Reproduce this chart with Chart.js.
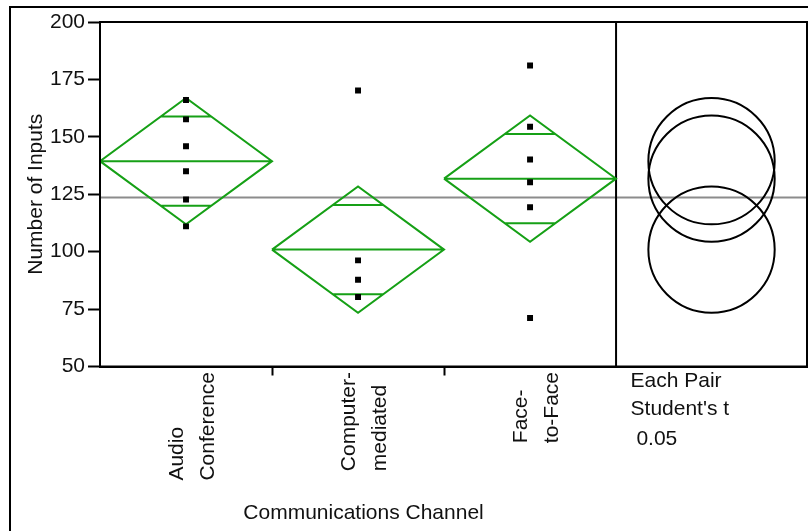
<!DOCTYPE html>
<html>
<head>
<meta charset="utf-8">
<title>Number of Inputs by Communications Channel</title>
<script src="https://cdn.jsdelivr.net/npm/chart.js@4/dist/chart.umd.min.js"></script>
<style>
  html, body { margin: 0; padding: 0; background: #ffffff; }
  #wrap { width: 808px; height: 531px; position: relative; }
</style>
</head>
<body>
<div id="wrap"><canvas id="chart" width="808" height="531"></canvas></div>
<script>
// ---- data ----
const channels = ['Audio Conference', 'Computer-mediated', 'Face-to-Face'];
const channelLabelLines = [['Audio', 'Conference'], ['Computer-', 'mediated'], ['Face-', 'to-Face']];
const audioInputs = [166, 157.6, 145.9, 135, 122.7, 111];
const computerInputs = [170.2, 96.2, 87.8, 80.3];
const faceInputs = [181.1, 154.4, 140.1, 130.2, 119.3, 71.1];
const groupMeans = [139.4, 100.9, 131.8];
const ciHalfWidths = [27.5, 27.5, 27.5];
const grandMean = 123.6;
const yTickValues = [50, 75, 100, 125, 150, 175, 200];
const axisTitleX = 'Communications Channel';
const axisTitleY = 'Number of Inputs';
const testLabelLines = ['Each Pair', "Student's t", ' 0.05'];

// ---- layout of the x scale: one unit per channel, then the comparison-circle panel ----
const PANEL_START = channels.length;
const X_MAX = 4.11;
const PANEL_CENTER = (PANEL_START + X_MAX) / 2;
const FONT = '"Liberation Sans", Arial, Helvetica, sans-serif';
const GREEN = '#16a016';

const groupInputs = [audioInputs, computerInputs, faceInputs];

// Means diamond: CI diamond, mean line and the two overlap marks, separated by gaps.
function diamondPoints(i) {
  const m = groupMeans[i], h = ciHalfWidths[i];
  const c = i + 0.5;
  const o = h / Math.SQRT2;             // overlap mark offset
  const w = 0.5 * (1 - 1 / Math.SQRT2); // half width of the diamond at the overlap marks
  return [
    { x: i, y: m }, { x: c, y: m + h }, { x: i + 1, y: m }, { x: c, y: m - h }, { x: i, y: m },
    { x: c, y: null },
    { x: i, y: m }, { x: i + 1, y: m },
    { x: c, y: null },
    { x: c - w, y: m + o }, { x: c + w, y: m + o },
    { x: c, y: null },
    { x: c - w, y: m - o }, { x: c + w, y: m - o }
  ];
}

const datasets = [];

// raw observations
groupInputs.forEach((vals, i) => {
  datasets.push({
    label: channels[i],
    data: vals.map(v => ({ x: i + 0.5, y: v })),
    showLine: false,
    pointStyle: 'rect',
    pointRadius: 4.2,
    pointBorderWidth: 0,
    pointBackgroundColor: '#000000',
    pointBorderColor: '#000000'
  });
});

// means diamonds
channels.forEach((name, i) => {
  datasets.push({
    label: name + ' means diamond',
    data: diamondPoints(i),
    showLine: true,
    spanGaps: false,
    borderColor: GREEN,
    borderWidth: 2,
    borderJoinStyle: 'miter',
    pointRadius: 0,
    fill: false
  });
});

// comparison circles (radius = CI half width, converted through the y scale)
datasets.push({
  label: 'comparison circles',
  data: groupMeans.map(m => ({ x: PANEL_CENTER, y: m })),
  showLine: false,
  pointStyle: 'circle',
  pointRadius: (ctx) => {
    const ys = ctx.chart.scales.y;
    const i = ctx.dataIndex;
    if (!ys) return 0;
    return Math.abs(ys.getPixelForValue(groupMeans[i] + ciHalfWidths[i]) - ys.getPixelForValue(groupMeans[i]));
  },
  pointBorderWidth: 2,
  pointBorderColor: '#000000',
  pointBackgroundColor: 'rgba(0,0,0,0)'
});

// divider between the channels and the circle panel
datasets.push({
  label: 'panel divider',
  data: [{ x: PANEL_START, y: yTickValues[0] }, { x: PANEL_START, y: yTickValues[yTickValues.length - 1] }],
  showLine: true,
  borderColor: '#000000',
  borderWidth: 2,
  pointRadius: 0
});

// grand mean reference line
datasets.push({
  label: 'grand mean',
  data: [{ x: 0, y: grandMean }, { x: X_MAX, y: grandMean }],
  showLine: true,
  borderColor: '#8c8c8c',
  borderWidth: 2,
  pointRadius: 0
});

// ---- plugins ----
const framePlugin = {
  id: 'frames',
  beforeDraw(chart) {
    const c = chart.ctx;
    c.save();
    c.strokeStyle = '#000000';
    c.lineWidth = 2;
    c.beginPath();
    c.moveTo(10, chart.height + 2);
    c.lineTo(10, 7);
    c.lineTo(chart.width + 2, 7);
    c.stroke();
    c.restore();
  },
  afterDraw(chart) {
    const a = chart.chartArea;
    const c = chart.ctx;
    c.save();
    c.strokeStyle = '#000000';
    c.lineWidth = 2;
    c.strokeRect(a.left, a.top, a.right - a.left, a.bottom - a.top);
    c.restore();
  }
};

const bottomTextPlugin = {
  id: 'bottomText',
  afterDraw(chart) {
    const c = chart.ctx;
    const xs = chart.scales.x;
    const a = chart.chartArea;
    c.save();
    c.font = '21px ' + FONT;
    c.fillStyle = '#111111';

    // rotated, two-line channel names
    channelLabelLines.forEach((lines, i) => {
      const cx = xs.getPixelForValue(i + 0.5);
      const longest = Math.max(...lines.map(t => c.measureText(t).width));
      const startY = a.bottom + 5.5 + longest;
      lines.forEach((t, j) => {
        c.save();
        c.translate(cx - 3.3 + j * 31.7, startY);
        c.rotate(-Math.PI / 2);
        c.textAlign = 'left';
        c.textBaseline = 'alphabetic';
        c.fillText(t, 0, 0);
        c.restore();
      });
    });

    // x axis title, centred under the channel columns
    c.textAlign = 'center';
    c.textBaseline = 'alphabetic';
    c.fillText(axisTitleX, xs.getPixelForValue(channels.length / 2) + 5.5, 518.5);

    // comparison test description under the circle panel
    c.textAlign = 'left';
    const tx = xs.getPixelForValue(PANEL_START) + 14.5;
    const offsets = [20, 48.5, 78.5];
    testLabelLines.forEach((t, j) => c.fillText(t, tx, a.bottom + offsets[j]));
    c.restore();
  }
};

new Chart(document.getElementById('chart'), {
  type: 'scatter',
  data: { datasets },
  plugins: [framePlugin, bottomTextPlugin],
  options: {
    responsive: false,
    devicePixelRatio: 1,
    animation: false,
    events: [],
    layout: { autoPadding: false, padding: { left: 10, top: 22, right: 1, bottom: 0 } },
    plugins: { legend: { display: false }, tooltip: { enabled: false } },
    scales: {
      x: {
        type: 'linear',
        min: 0,
        max: X_MAX,
        afterBuildTicks: (s) => { s.ticks = [{ value: 1 }, { value: 2 }]; },
        afterFit: (s) => { s.height = 164.5; },
        ticks: { display: false },
        grid: { drawOnChartArea: false, drawTicks: true, tickLength: 9, tickColor: '#000000', tickWidth: 2, color: '#000000' },
        border: { display: true, color: '#000000', width: 2 }
      },
      y: {
        type: 'linear',
        min: yTickValues[0],
        max: yTickValues[yTickValues.length - 1],
        afterBuildTicks: (s) => { s.ticks = yTickValues.map(v => ({ value: v })); },
        afterFit: (s) => { s.width = 90; },
        ticks: { color: '#111111', padding: 3, font: { family: FONT, size: 21 } },
        grid: { drawOnChartArea: false, drawTicks: true, tickLength: 12, tickColor: '#000000', tickWidth: 2, color: '#000000' },
        border: { display: true, color: '#000000', width: 2 },
        title: {
          display: true,
          text: axisTitleY,
          color: '#111111',
          font: { family: FONT, size: 21 },
          padding: { top: 14, bottom: 0 }
        }
      }
    }
  }
});
</script>
</body>
</html>
